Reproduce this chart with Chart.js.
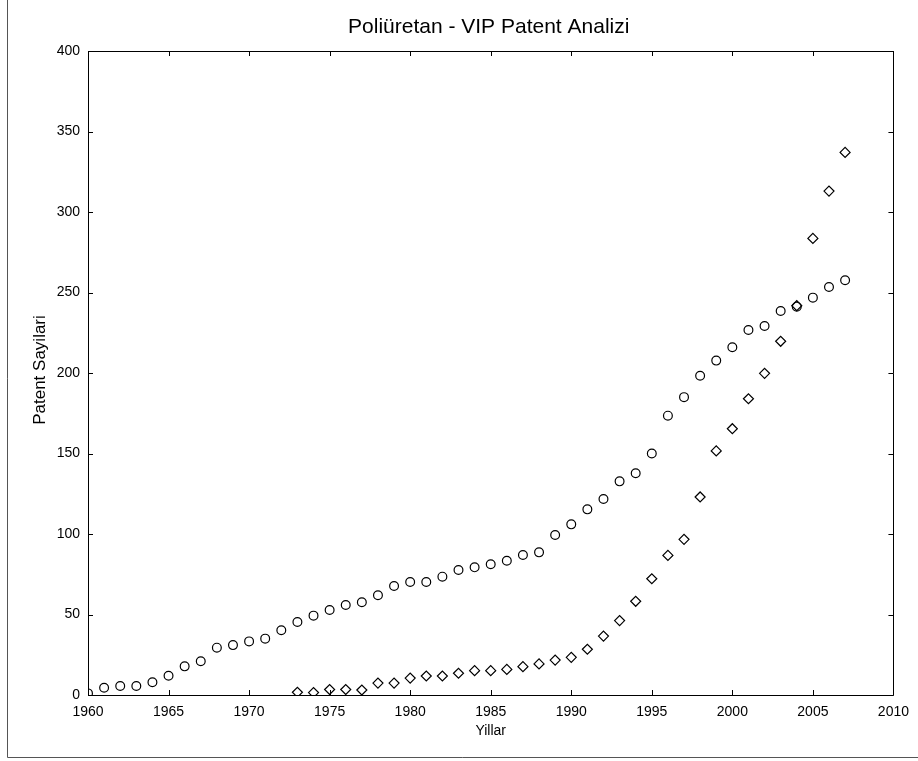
<!DOCTYPE html>
<html>
<head>
<meta charset="utf-8">
<script src="https://cdn.jsdelivr.net/npm/chart.js@4/dist/chart.umd.min.js"></script>
<style>
  html, body { margin: 0; padding: 0; background: #fff; }
  #wrap { width: 918px; height: 761px; }
</style>
</head>
<body>
<div id="wrap"><canvas id="chart" width="918" height="761"></canvas></div>
<script>
// data
const years = [1960, 1961, 1962, 1963, 1964, 1965, 1966, 1967, 1968, 1969,
  1970, 1971, 1972, 1973, 1974, 1975, 1976, 1977, 1978, 1979,
  1980, 1981, 1982, 1983, 1984, 1985, 1986, 1987, 1988, 1989,
  1990, 1991, 1992, 1993, 1994, 1995, 1996, 1997, 1998, 1999,
  2000, 2001, 2002, 2003, 2004, 2005, 2006, 2007];
const poliuretan = [1, 4.5, 5.6, 5.6, 7.9, 12, 17.8, 21, 29.4, 31,
  33.3, 35, 40.2, 45.3, 49.3, 52.8, 55.9, 57.6, 62, 67.7,
  70.2, 70.2, 73.5, 77.6, 79.3, 81.2, 83.4, 87, 88.6, 99.4,
  106, 115.3, 121.7, 132.7, 137.7, 150, 173.5, 185, 198.3, 207.7,
  216, 226.7, 229.2, 238.5, 241.2, 246.8, 253.4, 257.6];

const vipYears = [1973, 1974, 1975, 1976, 1977, 1978, 1979, 1980, 1981, 1982,
  1983, 1984, 1985, 1986, 1987, 1988, 1989, 1990, 1991, 1992,
  1993, 1994, 1995, 1996, 1997, 1998, 1999, 2000, 2001, 2002,
  2003, 2004, 2005, 2006, 2007];
const vip = [1.7, 1.5, 3.4, 3.4, 3.1, 7.4, 7.4, 10.5, 11.8, 11.8,
  13.5, 15.1, 15.1, 15.9, 17.6, 19.3, 21.7, 23.4, 28.4, 36.6,
  46.2, 58.2, 72.2, 86.7, 96.7, 123, 151.6, 165.4, 184, 199.8,
  219.7, 241.8, 283.6, 313, 337];

const xTicks = [1960, 1965, 1970, 1975, 1980, 1985, 1990, 1995, 2000, 2005, 2010];
const yTicks = [0, 50, 100, 150, 200, 250, 300, 350, 400];

const FONT = "'Liberation Sans', Arial, sans-serif";

// frame, inward ticks and titles
const framePlugin = {
  id: "frame",
  afterDraw(chart) {
    const ctx = chart.ctx;
    const a = chart.chartArea;
    const xs = chart.scales.x;
    const ys = chart.scales.y;
    ctx.save();
    ctx.strokeStyle = "#000";
    ctx.lineWidth = 1;
    ctx.beginPath();
    ctx.rect(Math.round(a.left) + 0.5, Math.round(a.top) + 0.5,
      Math.round(a.right - a.left), Math.round(a.bottom - a.top));
    ctx.stroke();
    ctx.beginPath();
    xTicks.forEach((t) => {
      const px = Math.round(xs.getPixelForValue(t)) + 0.5;
      ctx.moveTo(px, a.bottom); ctx.lineTo(px, a.bottom - 5);
      ctx.moveTo(px, a.top); ctx.lineTo(px, a.top + 5);
    });
    yTicks.forEach((t) => {
      const py = Math.round(ys.getPixelForValue(t)) + 0.5;
      ctx.moveTo(a.left, py); ctx.lineTo(a.left + 5, py);
      ctx.moveTo(a.right, py); ctx.lineTo(a.right - 5, py);
    });
    ctx.stroke();
    // outer page frame (left and bottom)
    ctx.strokeStyle = "#555";
    ctx.beginPath();
    ctx.moveTo(7.5, 0); ctx.lineTo(7.5, 757.5); ctx.lineTo(918, 757.5);
    ctx.stroke();

    const midX = (a.left + a.right) / 2;
    ctx.fillStyle = "#000";
    ctx.textAlign = "center";
    ctx.font = "21px " + FONT;
    ctx.textBaseline = "alphabetic";
    ctx.fillText("Poliüretan - VIP Patent Analizi", midX - 2, 33);

    ctx.font = "14px " + FONT;
    ctx.textBaseline = "middle";
    ctx.fillText("Yillar", midX, 731);

    ctx.save();
    ctx.translate(40, (a.top + a.bottom) / 2 - 3);
    ctx.rotate(-Math.PI / 2);
    ctx.font = "17px " + FONT;
    ctx.fillText("Patent Sayilari", 0, 0);
    ctx.restore();
    ctx.restore();
  },
};

new Chart(document.getElementById("chart"), {
  type: "scatter",
  data: {
    datasets: [
      {
        label: "Poliüretan",
        data: years.map((y, i) => ({ x: y, y: poliuretan[i] })),
        pointStyle: "circle",
        pointRadius: 4.4,
        pointBorderWidth: 1.2,
        borderColor: "#000",
        backgroundColor: "rgba(0,0,0,0)",
      },
      {
        label: "VIP",
        data: vipYears.map((y, i) => ({ x: y, y: vip[i] })),
        pointStyle: "rectRot",
        pointRadius: 5,
        pointBorderWidth: 1.2,
        borderColor: "#000",
        backgroundColor: "rgba(0,0,0,0)",
      },
    ],
  },
  options: {
    responsive: false,
    animation: false,
    layout: { padding: { left: 8, right: 24, top: 51, bottom: 4 } },
    plugins: {
      legend: { display: false },
      tooltip: { enabled: false },
      title: { display: false },
    },
    scales: {
      x: {
        type: "linear",
        min: 1960,
        max: 2010,
        afterFit: (s) => { s.height = 62; },
        afterBuildTicks: (s) => { s.ticks = xTicks.map((v) => ({ value: v })); },
        grid: { display: false, drawTicks: false },
        border: { display: false },
        ticks: {
          color: "#000",
          font: { family: FONT, size: 14 },
          padding: 9,
          maxRotation: 0,
          callback: (v) => String(v),
        },
      },
      y: {
        type: "linear",
        min: 0,
        max: 400,
        afterFit: (s) => { s.width = 80; },
        afterBuildTicks: (s) => { s.ticks = yTicks.map((v) => ({ value: v })); },
        grid: { display: false, drawTicks: false },
        border: { display: false },
        ticks: {
          color: "#000",
          font: { family: FONT, size: 14 },
          padding: 8,
        },
      },
    },
  },
  plugins: [framePlugin],
});
</script>
</body>
</html>
